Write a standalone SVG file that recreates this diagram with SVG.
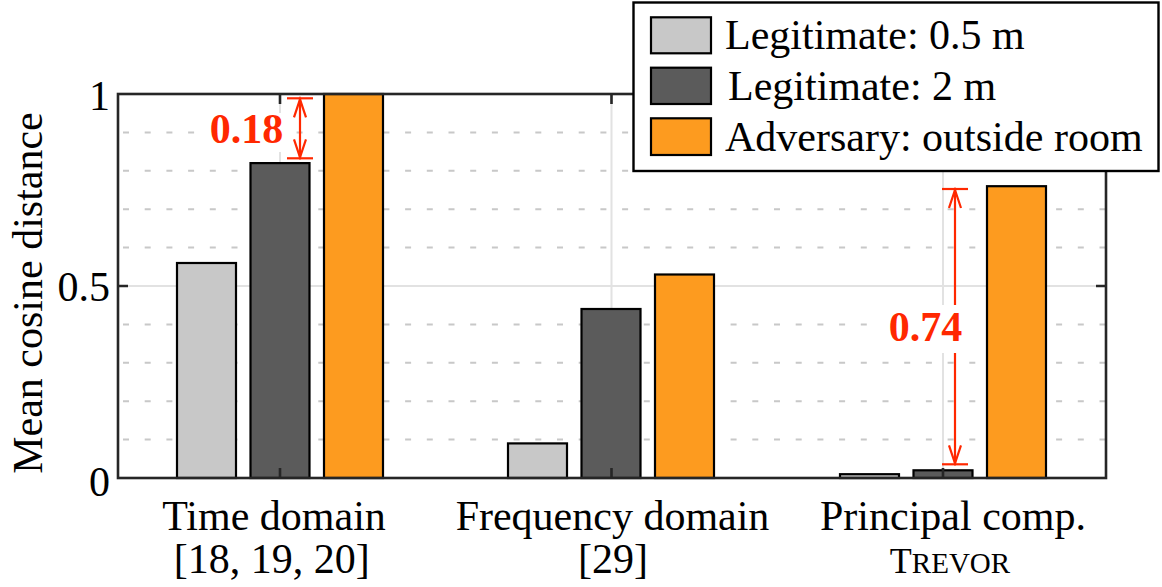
<svg xmlns="http://www.w3.org/2000/svg" width="1162" height="587" viewBox="0 0 1162 587">
<style>
text{font-family:"Liberation Serif","DejaVu Serif",serif;fill:#000;font-size:42px}
.minor{stroke:#c8c8c8;stroke-width:2;stroke-dasharray:6 15.7;fill:none}
.major{stroke:#e2e2e2;stroke-width:2;fill:none}
.bar{stroke:#000;stroke-width:2.2}
.l{fill:#c8c8c8}.d{fill:#5b5b5b}.o{fill:#fd9b1f}
.axis{stroke:#262626;stroke-width:2.6;fill:none}
.ann{stroke:#ff2800;stroke-width:2.2;fill:none}
.annt{fill:#ff2800;font-weight:bold}
</style>
<defs>
<marker id="ah" markerUnits="userSpaceOnUse" markerWidth="22" markerHeight="16" refX="19" refY="7" orient="auto-start-reverse">
<path d="M1,1 L19,7 L1,13" fill="none" stroke="#ff2800" stroke-width="2.2"/>
</marker>
</defs>
<g id="grid">
<line class="minor" x1="123" y1="132.4" x2="1106" y2="132.4"/>
<line class="minor" x1="123" y1="170.8" x2="1106" y2="170.8"/>
<line class="minor" x1="123" y1="209.2" x2="1106" y2="209.2"/>
<line class="minor" x1="123" y1="247.6" x2="1106" y2="247.6"/>
<line class="minor" x1="123" y1="324.4" x2="1106" y2="324.4"/>
<line class="minor" x1="123" y1="362.8" x2="1106" y2="362.8"/>
<line class="minor" x1="123" y1="401.2" x2="1106" y2="401.2"/>
<line class="minor" x1="123" y1="439.6" x2="1106" y2="439.6"/>
<line class="major" x1="118" y1="286" x2="1106" y2="286"/>
<line class="major" x1="280" y1="94" x2="280" y2="478"/>
<line class="major" x1="611.5" y1="94" x2="611.5" y2="478"/>
<line class="major" x1="943" y1="94" x2="943" y2="478"/>
</g>
<g id="bars-time">
<rect class="bar l" x="177" y="263" width="59" height="215"/>
<rect class="bar d" x="250.5" y="163.1" width="59" height="314.9"/>
<rect class="bar o" x="324" y="94" width="59" height="384"/>
</g>
<g id="bars-freq">
<rect class="bar l" x="508" y="443.4" width="59" height="34.6"/>
<rect class="bar d" x="581.5" y="309" width="59" height="169"/>
<rect class="bar o" x="655" y="274.5" width="59" height="203.5"/>
</g>
<g id="bars-pca">
<rect class="bar l" x="840" y="474.2" width="59" height="3.8"/>
<rect class="bar d" x="913.5" y="470.3" width="59" height="7.7"/>
<rect class="bar o" x="987" y="186.2" width="59" height="291.8"/>
</g>
<g id="annotation-018">
<rect x="200" y="113" width="87" height="39" fill="#fff"/>
<line class="ann" x1="287" y1="98.3" x2="313" y2="98.3"/>
<line class="ann" x1="287" y1="158.3" x2="313" y2="158.3"/>
<line class="ann" x1="300" y1="99.3" x2="300" y2="157.3" marker-start="url(#ah)" marker-end="url(#ah)"/>
<text class="annt" x="246.5" y="142.7" text-anchor="middle">0.18</text>
</g>
<g id="annotation-074">
<line class="ann" x1="942" y1="189" x2="968" y2="189"/>
<line class="ann" x1="942" y1="464.3" x2="968" y2="464.3"/>
<line class="ann" x1="955" y1="190" x2="955" y2="463.3" marker-start="url(#ah)" marker-end="url(#ah)"/>
<rect x="882" y="305" width="96" height="48" fill="#fff"/>
<text class="annt" x="925.5" y="341" text-anchor="middle">0.74</text>
</g>
<g id="axes">
<rect class="axis" x="118" y="94" width="988" height="384"/>
<path class="axis" d="M280,94V104M611.5,94V104M943,94V104M280,478V468M611.5,478V468M943,478V468M118,286H128M1106,286H1096"/>
<text x="110" y="110" text-anchor="end">1</text>
<text x="110" y="301" text-anchor="end">0.5</text>
<text x="110" y="496" text-anchor="end">0</text>
<text transform="translate(42,293) rotate(-90)" text-anchor="middle">Mean cosine distance</text>
</g>
<g id="labels">
<text x="274" y="530" text-anchor="middle">Time domain</text>
<text x="271.7" y="573" text-anchor="middle">[18, 19, 20]</text>
<text x="612.5" y="530" text-anchor="middle">Frequency domain</text>
<text x="613" y="573" text-anchor="middle">[29]</text>
<text x="953" y="530" text-anchor="middle">Principal comp.</text>
<text x="950" y="573" text-anchor="middle"><tspan font-size="36">T</tspan><tspan font-size="29">REVOR</tspan></text>
</g>
<g id="legend">
<rect x="633.5" y="2.5" width="525" height="168.5" fill="#fff" stroke="#000" stroke-width="2.4"/>
<rect class="bar l" x="651" y="17.3" width="60" height="36"/>
<rect class="bar d" x="651" y="67.7" width="60" height="36.3"/>
<rect class="bar o" x="651" y="118.3" width="60" height="36.7"/>
<text x="725" y="49.3">Legitimate: 0.5 m</text>
<text x="728" y="100">Legitimate: 2 m</text>
<text x="725" y="150.7">Adversary: outside room</text>
</g>
</svg>
